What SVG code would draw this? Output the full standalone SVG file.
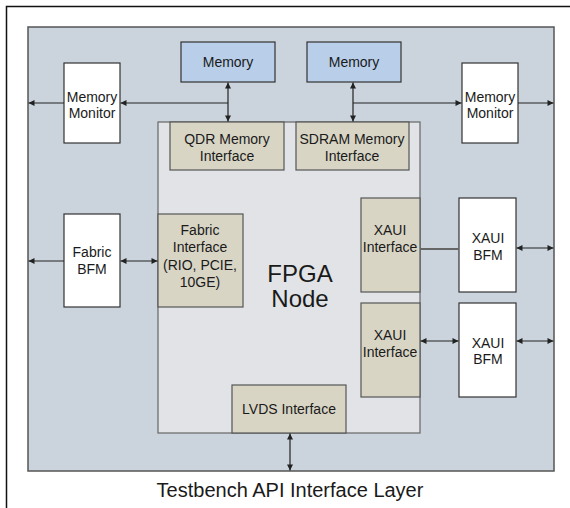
<svg xmlns="http://www.w3.org/2000/svg" width="570" height="508" viewBox="0 0 570 508">
<defs>
<marker id="ah" viewBox="0 0 10 10" refX="10" refY="5" markerWidth="8" markerHeight="6" markerUnits="userSpaceOnUse" orient="auto-start-reverse">
<path d="M0,0 L10,5 L0,10 Z" fill="#222"/>
</marker>
</defs>
<style>
text{font-family:"Liberation Sans",Arial,sans-serif;fill:#1a1a1a;text-anchor:middle}
.s{font-size:14px}
.mem{fill:#b8cee9;stroke:#333;stroke-width:1.2}
.wb{fill:#fff;stroke:#333;stroke-width:1.2}
.if{fill:#d8d5c5;stroke:#555;stroke-width:1.2}
.c{stroke:#222;stroke-width:1.2;fill:none}
</style>
<rect width="570" height="508" fill="#fff"/>
<path d="M6.5,508 V6.5 H570" fill="none" stroke="#111" stroke-width="1.5"/>
<rect id="panel" x="28" y="27" width="526" height="444" fill="#cbd4dc" stroke="#555" stroke-width="1.5"/>
<g id="fpga">
<rect x="158" y="122" width="262" height="311" fill="#e1e3e6" stroke="#666" stroke-width="1.2"/>
<text x="300" y="282" font-size="24">FPGA</text>
<text x="300" y="307" font-size="24">Node</text>
</g>
<g id="memory1"><rect class="mem" x="181" y="42" width="94" height="40"/><text class="s" x="228" y="67">Memory</text></g>
<g id="memory2"><rect class="mem" x="307" y="42" width="94" height="40"/><text class="s" x="354" y="67">Memory</text></g>
<g id="mm-left"><rect class="wb" x="64" y="63" width="56" height="80"/><text class="s" x="92" y="102">Memory</text><text class="s" x="92" y="118">Monitor</text></g>
<g id="mm-right"><rect class="wb" x="462" y="63" width="56" height="80"/><text class="s" x="490" y="102">Memory</text><text class="s" x="490" y="118">Monitor</text></g>
<g id="qdr"><rect class="if" x="170" y="122" width="114" height="48"/><text class="s" x="227" y="144">QDR Memory</text><text class="s" x="227" y="161">Interface</text></g>
<g id="sdram"><rect class="if" x="296" y="122" width="113" height="48"/><text class="s" x="352" y="144">SDRAM Memory</text><text class="s" x="352" y="161">Interface</text></g>
<g id="fabric-if"><rect class="if" x="158" y="214" width="85" height="93"/><text class="s" x="200" y="235">Fabric</text><text class="s" x="200" y="252">Interface</text><text class="s" x="200" y="270">(RIO, PCIE,</text><text class="s" x="200" y="287">10GE)</text></g>
<g id="fabric-bfm"><rect class="wb" x="64" y="214" width="56" height="93"/><text class="s" x="92" y="257">Fabric</text><text class="s" x="92" y="274">BFM</text></g>
<g id="xaui-if1"><rect class="if" x="361" y="198" width="59" height="94"/><text class="s" x="390" y="235">XAUI</text><text class="s" x="390" y="252">Interface</text></g>
<g id="xaui-bfm1"><rect class="wb" x="459" y="198" width="57" height="94"/><text class="s" x="488" y="243">XAUI</text><text class="s" x="488" y="260">BFM</text></g>
<g id="xaui-if2"><rect class="if" x="361" y="303" width="59" height="94"/><text class="s" x="390" y="340">XAUI</text><text class="s" x="390" y="357">Interface</text></g>
<g id="xaui-bfm2"><rect class="wb" x="459" y="303" width="57" height="94"/><text class="s" x="488" y="348">XAUI</text><text class="s" x="488" y="364">BFM</text></g>
<g id="lvds"><rect class="if" x="232" y="385" width="114" height="48"/><text class="s" x="289" y="414">LVDS Interface</text></g>
<g id="connectors">
<path class="c" d="M228,82.5 V121.5" marker-start="url(#ah)" marker-end="url(#ah)"/>
<path class="c" d="M228,103 H120.5" marker-end="url(#ah)"/>
<path class="c" d="M64,103 H28.5" marker-end="url(#ah)"/>
<path class="c" d="M353,82.5 V121.5" marker-start="url(#ah)" marker-end="url(#ah)"/>
<path class="c" d="M353,103 H461.5" marker-end="url(#ah)"/>
<path class="c" d="M518,103 H553.5" marker-end="url(#ah)"/>
<path class="c" d="M64,261 H28.5" marker-end="url(#ah)"/>
<path class="c" d="M120.5,261 H157.5" marker-start="url(#ah)" marker-end="url(#ah)"/>
<path d="M420,249 H459" stroke="#666" stroke-width="1.8" fill="none"/>
<path class="c" d="M516.5,248 H553.5" marker-start="url(#ah)" marker-end="url(#ah)"/>
<path class="c" d="M420.5,341 H458.5" marker-start="url(#ah)" marker-end="url(#ah)"/>
<path class="c" d="M516.5,341 H553.5" marker-start="url(#ah)" marker-end="url(#ah)"/>
<path class="c" d="M290,433.5 V470.5" marker-start="url(#ah)" marker-end="url(#ah)"/>
</g>
<text x="290" y="497" font-size="20">Testbench API Interface Layer</text>
</svg>
